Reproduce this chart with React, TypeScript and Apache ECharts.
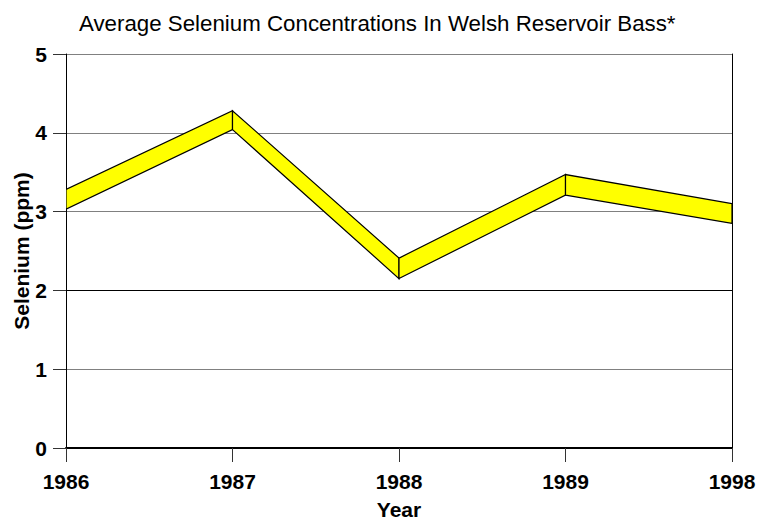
import React, { useEffect, useRef } from "react";
import * as echarts from "echarts";

const years = ["1986", "1987", "1988", "1989", "1998"];
const lowerEdge = [3.03, 4.04, 2.15, 3.21, 2.85];
const upperEdge = [3.28, 4.28, 2.41, 3.47, 3.1];
const yTicks = { min: 0, max: 5, interval: 1 };

const FONT = "'Liberation Sans', Arial, sans-serif";

export default function App() {
  const ref = useRef<HTMLDivElement>(null);
  useEffect(() => {
    if (!ref.current) return;
    const chart = echarts.init(ref.current, null, { renderer: "svg" });
    const segments = years.slice(0, -1).map((_, i) => [
      i,
      lowerEdge[i],
      upperEdge[i],
      lowerEdge[i + 1],
      upperEdge[i + 1],
    ]);
    chart.setOption({
      animation: false,
      backgroundColor: "#ffffff",
      title: {
        text: "Average Selenium Concentrations In Welsh Reservoir Bass*",
        left: 74,
        top: 7,
        textStyle: {
          fontFamily: FONT,
          fontSize: 22.3,
          fontWeight: "normal",
          color: "#000",
        },
      },
      grid: { left: 66, right: 25, top: 54, bottom: 75, containLabel: false, outerBoundsMode: "none" },
      xAxis: {
        type: "category",
        data: years,
        boundaryGap: false,
        name: "Year",
        nameLocation: "middle",
        nameGap: 51,
        nameMoveOverlap: false,
        nameTextStyle: { fontFamily: FONT, fontSize: 21, fontWeight: "bold", color: "#000" },
        axisLine: { lineStyle: { color: "#000", width: 2 } },
        axisTick: { length: 14, lineStyle: { color: "#333", width: 1 } },
        axisLabel: { margin: 23, fontFamily: FONT, fontSize: 21, fontWeight: "bold", color: "#000" },
        splitLine: { show: false },
      },
      yAxis: [
        {
          type: "value",
          min: yTicks.min,
          max: yTicks.max,
          interval: yTicks.interval,
          name: "Selenium (ppm)",
          nameLocation: "middle",
          nameGap: 34,
          nameMoveOverlap: false,
          nameTextStyle: { fontFamily: FONT, fontSize: 21, fontWeight: "bold", color: "#000" },
          axisLine: { show: true, lineStyle: { color: "#000", width: 1 } },
          axisTick: { show: true, length: 13, lineStyle: { color: "#333" } },
          axisLabel: { margin: 19, fontFamily: FONT, fontSize: 21, fontWeight: "bold", color: "#000" },
          splitLine: {
            show: true,
            lineStyle: {
              color: ["#808080", "#808080", "#000000", "#808080", "#808080", "#808080"],
              width: 1,
            },
          },
        },
        {
          type: "value",
          position: "right",
          min: yTicks.min,
          max: yTicks.max,
          interval: yTicks.interval,
          axisLine: { show: true, lineStyle: { color: "#000", width: 1 } },
          axisTick: { show: false },
          axisLabel: { show: false },
          splitLine: { show: false },
        },
      ],
      series: [
        {
          type: "custom",
          coordinateSystem: "cartesian2d",
          clip: true,
          data: segments,
          encode: { x: 0, y: [1, 2, 3, 4] },
          renderItem: (params: any, api: any) => {
            const i = api.value(0);
            const a0 = api.coord([i, api.value(1)]);
            const a1 = api.coord([i, api.value(2)]);
            const b0 = api.coord([i + 1, api.value(3)]);
            const b1 = api.coord([i + 1, api.value(4)]);
            return {
              type: "polygon",
              shape: { points: [a0, b0, b1, a1] },
              style: { fill: "#ffff00", stroke: "#000", lineWidth: 1.2 },
            };
          },
        },
      ],
    });
    return () => chart.dispose();
  }, []);
  return (
    <div
      ref={ref}
      style={{ position: "fixed", left: 0, top: 0, width: 757, height: 523 }}
    />
  );
}
